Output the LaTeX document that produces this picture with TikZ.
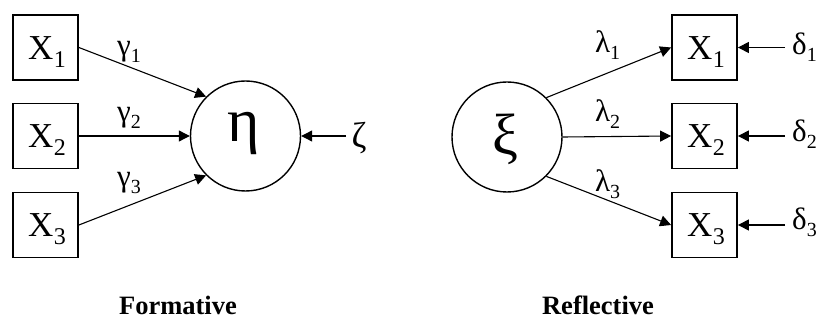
\documentclass[tikz,border=0pt]{standalone}
\usepackage{fontspec}
\setmainfont{Liberation Serif}
\usetikzlibrary{arrows.meta}
\newcommand\Xsub[1]{X\kern0.5pt\raisebox{-8pt}{\fontsize{24}{24}\selectfont #1}}
\newcommand\Gsub[2]{#1\raisebox{-7pt}{\fontsize{20}{20}\selectfont #2}}
\begin{document}
\begin{tikzpicture}[x=1pt,y=-1pt,
  box/.style={draw, line width=1.8pt, minimum size=65pt, inner sep=0pt},
  lat/.style={draw, circle, line width=1.4pt, minimum size=110pt, inner sep=0pt},
  xlab/.style={font=\fontsize{35}{35}\selectfont, inner sep=0pt, anchor=base},
  glab/.style={font=\fontsize{31}{31}\selectfont, inner sep=0pt, anchor=base west},
  ttl/.style={font=\fontsize{26.5}{26.5}\selectfont\bfseries, inner sep=0pt, anchor=base},
  arr/.style={line width=1.1pt, -{Triangle[length=11pt,width=11pt]}}]
\useasboundingbox (0,0) rectangle (819,320);
% ---------- Formative ----------
\node[box] (fx1) at (45.5,47.5) {};
\node[box] (fx2) at (45.5,136) {};
\node[box] (fx3) at (45.5,225) {};
\node[xlab] (fl1) at (47,59.5) {\Xsub{1}};
\node[xlab] (fl2) at (47,148) {\Xsub{2}};
\node[xlab] (fl3) at (47,237) {\Xsub{3}};
\node[lat] (eta) at (245.5,136) {};
\node[inner sep=0pt, anchor=base, font=\fontsize{62}{62}\selectfont] (etal) at (244,142) {η};
\node[inner sep=0pt, anchor=base, font=\fontsize{36}{36}\selectfont] (zeta) at (359,148) {ζ};
\coordinate (zt) at (346,136);
\draw[arr] (fx1.east) -- (eta.135);
\draw[arr] (fx2.east) -- (eta.west);
\draw[arr] (fx3.east) -- (eta.225);
\draw[arr] (zt) -- (eta.east);
\node[glab] (g1) at (117,56) {\Gsub{γ}{1}};
\node[glab] (g2) at (117,122) {\Gsub{γ}{2}};
\node[glab] (g3) at (117,187) {\Gsub{γ}{3}};
\node[ttl] (form) at (178,314) {Formative};
% ---------- Reflective ----------
\node[lat] (xi) at (507,137) {};
\node[inner sep=0pt, anchor=base, font=\fontsize{58}{58}\selectfont] (xil) at (505,155) {ξ};
\node[box] (rx1) at (704.5,47.5) {};
\node[box] (rx2) at (704.5,136) {};
\node[box] (rx3) at (704.5,225) {};
\node[xlab] (rl1) at (706,59.5) {\Xsub{1}};
\node[xlab] (rl2) at (706,148) {\Xsub{2}};
\node[xlab] (rl3) at (706,237) {\Xsub{3}};
\draw[arr] (xi.45) -- (rx1.west);
\draw[arr] (xi.east) -- (rx2.west);
\draw[arr] (xi.-45) -- (rx3.west);
\node[glab] (l1) at (595,53) {\Gsub{λ}{1}};
\node[glab] (l2) at (595,121.5) {\Gsub{λ}{2}};
\node[glab] (l3) at (595,191.5) {\Gsub{λ}{3}};
\node[glab] (d1) at (792,55) {\Gsub{δ}{1}};
\node[glab] (d2) at (792,141.5) {\Gsub{δ}{2}};
\node[glab] (d3) at (792,230) {\Gsub{δ}{3}};
\coordinate (d1t) at (785,47.5);
\coordinate (d2t) at (785,136);
\coordinate (d3t) at (785,225);
\draw[arr] (d1t) -- (rx1.east);
\draw[arr] (d2t) -- (rx2.east);
\draw[arr] (d3t) -- (rx3.east);
\node[ttl] (refl) at (598,314) {Reflective};
\end{tikzpicture}
\end{document}
